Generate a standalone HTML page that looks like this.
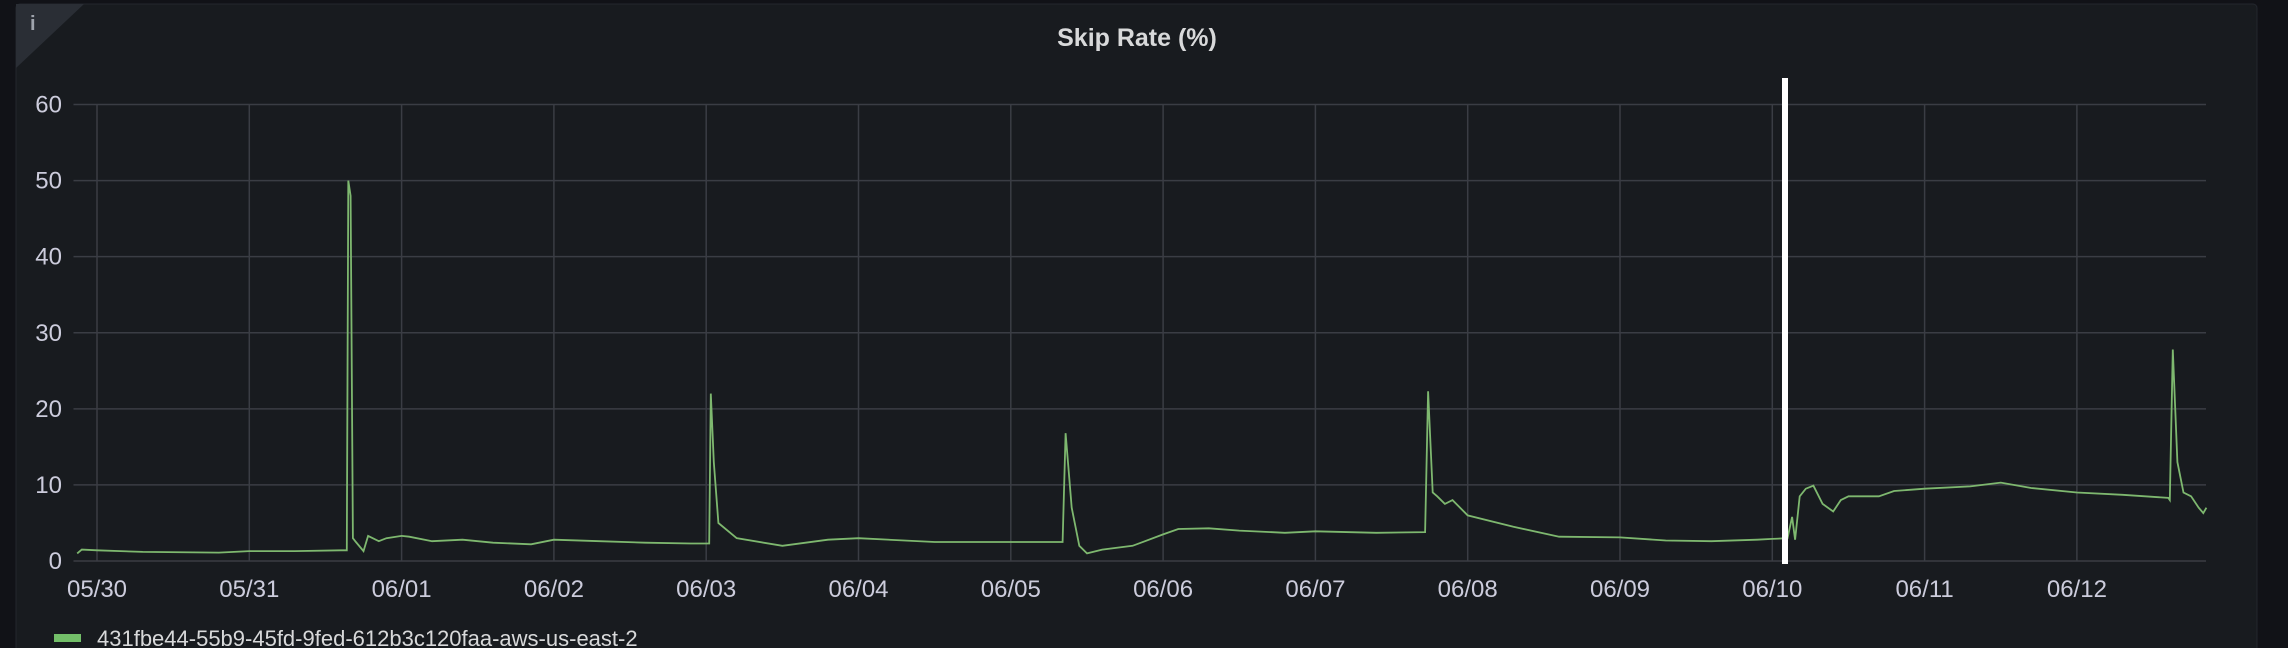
<!DOCTYPE html>
<html><head><meta charset="utf-8"><style>
html,body{margin:0;padding:0;background:#111217;width:2288px;height:648px;overflow:hidden}
svg{display:block}
text{font-family:"Liberation Sans",sans-serif}
</style></head><body>
<svg id="c" width="2288" height="648">
<rect x="16" y="4" width="2241" height="660" rx="4" fill="#181b1f" stroke="#24272e"/>
<polygon points="16,4 84,4 16,68" fill="#2a2e35"/>
<text x="30" y="30" fill="#9fa4ad" font-size="20" font-weight="bold" font-family="Liberation Serif">i</text>
<text x="1137" y="46" fill="#d8d9da" font-size="25" font-weight="bold" text-anchor="middle">Skip Rate (%)</text>
<g id="grid"></g><g id="ylab"></g><g id="xlab"></g><g id="series"></g>
<rect x="1782" y="78" width="6" height="486" fill="#ffffff"/>
<rect x="54" y="634" width="27" height="8" fill="#73bf69"/>
<text x="97" y="646" fill="#d8d9da" font-size="22">431fbe44-55b9-45fd-9fed-612b3c120faa-aws-us-east-2</text>
</svg>
<script>
const yTicks=[0,10,20,30,40,50,60];
const xTickLabels=["05/30","05/31","06/01","06/02","06/03","06/04","06/05","06/06","06/07","06/08","06/09","06/10","06/11","06/12"];
const tDays=[-0.13,-0.1,0,0.3,0.8,1.0,1.3,1.6,1.64,1.65,1.665,1.68,1.7,1.75,1.78,1.85,1.9,2.0,2.05,2.2,2.4,2.6,2.85,3.0,3.3,3.6,3.9,4.02,4.03,4.05,4.08,4.2,4.5,4.8,5.0,5.5,6.0,6.34,6.36,6.4,6.45,6.5,6.6,6.8,7.0,7.1,7.3,7.5,7.8,8.0,8.4,8.72,8.74,8.77,8.8,8.85,8.9,9.0,9.3,9.6,10.0,10.3,10.6,10.9,11.0,11.1,11.13,11.15,11.18,11.22,11.27,11.33,11.4,11.45,11.5,11.7,11.8,12.0,12.3,12.5,12.7,13.0,13.3,13.6,13.61,13.63,13.66,13.7,13.75,13.8,13.83,13.85];
const values=[1.0,1.5,1.4,1.2,1.1,1.3,1.3,1.4,1.4,50,48,3,2.5,1.3,3.3,2.6,3.0,3.3,3.2,2.6,2.8,2.4,2.2,2.8,2.6,2.4,2.3,2.3,22,13,5,3,2,2.8,3,2.5,2.5,2.5,16.8,7,2,1,1.5,2,3.5,4.2,4.3,4,3.7,3.9,3.7,3.8,22.3,9,8.5,7.5,8,6,4.5,3.2,3.1,2.7,2.6,2.8,2.9,3.0,5.8,2.8,8.5,9.5,9.9,7.5,6.5,8,8.5,8.5,9.2,9.5,9.8,10.3,9.6,9.0,8.7,8.3,8.0,27.8,13,9,8.5,7,6.3,7.0];
const NS="http://www.w3.org/2000/svg";
const X0=73.5,X1=2206,Y0=561,Y60=104.5;
const dayPx=152.3,origin=97;
const x=d=>origin+d*dayPx;
const y=v=>Y0-(v/60)*(Y0-Y60);
const grid=document.getElementById('grid'),yl=document.getElementById('ylab'),xl=document.getElementById('xlab');
yTicks.forEach(v=>{
 const l=document.createElementNS(NS,'line');
 l.setAttribute('x1',X0);l.setAttribute('x2',X1);l.setAttribute('y1',y(v));l.setAttribute('y2',y(v));
 l.setAttribute('stroke','#3a3d44');l.setAttribute('stroke-width','1.5');
 
 
 grid.appendChild(l);
 const t=document.createElementNS(NS,'text');
 t.setAttribute('x',62);t.setAttribute('y',y(v)+8);t.setAttribute('text-anchor','end');
 t.setAttribute('fill','#ccccdc');t.setAttribute('font-size','24');t.textContent=v;
 
 
 yl.appendChild(t);
});
xTickLabels.forEach((s,i)=>{
 const l=document.createElementNS(NS,'line');
 l.setAttribute('x1',x(i));l.setAttribute('x2',x(i));l.setAttribute('y1',Y60);l.setAttribute('y2',Y0);
 l.setAttribute('stroke','#3a3d44');l.setAttribute('stroke-width','1.5');
 
 
 grid.appendChild(l);
 const t=document.createElementNS(NS,'text');
 t.setAttribute('x',x(i));t.setAttribute('y',597);t.setAttribute('text-anchor','middle');
 t.setAttribute('fill','#ccccdc');t.setAttribute('font-size','24');t.textContent=s;
 
 
 xl.appendChild(t);
});
const p=document.createElementNS(NS,'polyline');
p.setAttribute('points',tDays.map((d,i)=>x(d).toFixed(1)+','+y(values[i]).toFixed(1)).join(' '));
p.setAttribute('fill','none');p.setAttribute('stroke','#7eb86f');p.setAttribute('stroke-width','1.8');


document.getElementById('series').appendChild(p);
</script>
</body></html>
